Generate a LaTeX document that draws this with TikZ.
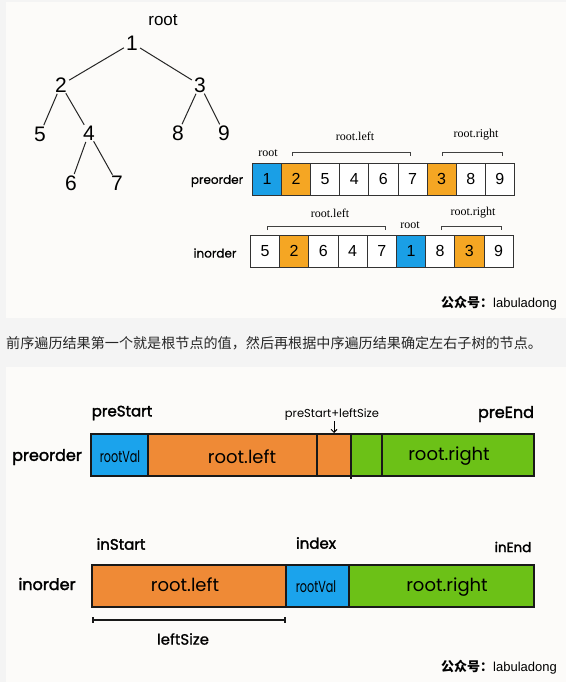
\documentclass[tikz,border=0pt]{standalone}
\usepackage{fontspec}
\setmainfont{Liberation Sans}
\newfontfamily\hand{Poppins}
\newfontfamily\handm{Poppins}[FakeBold=0.8]
\newfontfamily\handb{Poppins}[FakeBold=2]
\newfontfamily\ser{Liberation Serif}
\newfontfamily\cjk{Noto Sans CJK SC}
\usetikzlibrary{arrows.meta}
\definecolor{pg}{HTML}{F4F4F4}
\definecolor{panel}{HTML}{FCFBF9}
\definecolor{tblue}{HTML}{1A9FE6}
\definecolor{torange}{HTML}{F5A623}
\definecolor{borange}{HTML}{EF8A36}
\definecolor{bblue}{HTML}{1BA3EC}
\definecolor{bgreen}{HTML}{6CC117}
\begin{document}
\begin{tikzpicture}[x=1pt,y=-1pt,
  tn/.style={circle,inner sep=0pt,minimum size=17pt,font=\fontsize{21}{21}\selectfont},
  edge/.style={line width=1pt,black!85},
  cell/.style={draw=black!80,line width=0.8pt,minimum width=29.1pt,minimum height=32pt,inner sep=0pt,anchor=north west,font=\fontsize{16}{16}\selectfont},
  rowlab/.style={font=\handm\fontsize{12}{12}\selectfont,black,inner sep=0pt},
  serlab/.style={font=\ser\fontsize{12}{12}\selectfont,inner sep=0pt},
  brk/.style={line width=0.8pt,black!75},
  bar/.style={line width=1.2pt,black!90},
  hb/.style={font=\handb\fontsize{16}{16}\selectfont,inner sep=0pt},
  hr/.style={font=\hand\fontsize{18}{18}\selectfont,inner sep=0pt},
  foot/.style={font=\fontsize{13}{13}\selectfont,inner sep=0pt,anchor=east}
]
\useasboundingbox (0,0) rectangle (566,682);
\fill[pg] (0,0) rectangle (566,682);
\fill[panel] (6,2) rectangle (566,318);
\fill[panel] (6,367) rectangle (566,682);

% ---------- tree ----------
\node[font=\fontsize{17}{17}\selectfont,inner sep=0pt] (rootlab) at (163,20) {root};
\node[tn] (n1) at (132,43) {1};
\node[tn] (n2) at (61,85) {2};
\node[tn] (n3) at (200,85) {3};
\node[tn] (n5) at (40,134) {5};
\node[tn] (n4) at (89,133) {4};
\node[tn] (n8) at (178,133) {8};
\node[tn] (n9) at (224,133) {9};
\node[tn] (n6) at (71,183) {6};
\node[tn] (n7) at (117,183) {7};
\draw[edge] (n1) -- (n2);
\draw[edge] (n1) -- (n3);
\draw[edge] (n2) -- (n5);
\draw[edge] (n2) -- (n4);
\draw[edge] (n3) -- (n8);
\draw[edge] (n3) -- (n9);
\draw[edge] (n4) -- (n6);
\draw[edge] (n4) -- (n7);

% ---------- arrays ----------
\node[rowlab] (prel) at (217,181) {preorder};
\node[rowlab] (inl) at (215,253) {inorder};
\foreach \v/\c [count=\i] in {1/tblue,2/torange,5/white,4/white,6/white,7/white,3/torange,8/white,9/white}
  \node[cell,fill=\c] (p\i) at ({252+(\i-1)*29.11},163) {\v};
\foreach \v/\c [count=\i] in {5/white,2/torange,6/white,4/white,7/white,1/tblue,8/white,3/torange,9/white}
  \node[cell,fill=\c] (q\i) at ({250+(\i-1)*29.2},235) {\v};

\node[serlab] (proot) at (268,153) {root};
\node[serlab] (pleft) at (355,136) {root.left};
\node[serlab] (pright) at (476,135) {root.right};
\draw[brk] (292,156) -- (292,152) -- (410,152) -- (410,156);
\draw[brk] (442,156) -- (442,152) -- (502,152) -- (502,156);

\node[serlab] (ileft) at (330,213) {root.left};
\node[serlab] (iroot) at (410,225) {root};
\node[serlab] (iright) at (473,213) {root.right};
\draw[brk] (267,230) -- (267,226) -- (385,226) -- (385,230);
\draw[brk] (441,230) -- (441,226) -- (501,226) -- (501,230);

\node[foot] (foot1) at (557,303) {{\cjk\bfseries 公众号：}labuladong};

% ---------- caption ----------
\node[anchor=west,inner sep=0pt,font=\cjk\fontsize{14.1}{14}\selectfont,black!85] (cap) at (6,343)
  {前序遍历结果第一个就是根节点的值，然后再根据中序遍历结果确定左右子树的节点。};

% ---------- bottom: preorder bar ----------
\fill[bblue] (91,434) rectangle (148,476);
\fill[borange] (148,434) rectangle (351,476);
\fill[bgreen] (351,434) rectangle (534,476);
\draw[bar] (91,434) rectangle (534,476);
\draw[bar] (148,434) -- (148,476);
\draw[bar] (317,434) -- (317,476);
\draw[bar] (351,434) -- (351,479);
\draw[bar] (382,434) -- (382,476);
\node[hb] (bprel) at (47,457) {preorder};
\node[hb,font=\handb\fontsize{15}{15}\selectfont] (prestart) at (122,413) {preStart};
\node[inner sep=0pt,font=\hand\fontsize{11.5}{12}\selectfont] (psl) at (332,415) {preStart+leftSize};
\node[hb] (preend) at (506,414) {preEnd};
\node[inner sep=0pt,font=\hand\fontsize{16}{16}\selectfont] (prv) at (120,457) {\scalebox{0.7}[1]{rootVal}};
\node[hr] (pbl) at (242,457) {root.left};
\node[hr] (pbr) at (449,456) {root.right};
\coordinate (arrtip) at (334,433);
\draw[line width=0.9pt,-{Straight Barb[length=3pt,width=6pt]}] (psl.south -| arrtip) -- (arrtip);

% ---------- bottom: inorder bar ----------
\fill[borange] (92,565) rectangle (286,607);
\fill[bblue] (286,565) rectangle (349,607);
\fill[bgreen] (349,565) rectangle (534,607);
\draw[bar] (92,565) rectangle (534,607);
\draw[bar] (286,565) -- (286,607);
\draw[bar] (349,565) -- (349,607);
\node[hb] (binl) at (47,584) {inorder};
\node[hb,font=\handb\fontsize{15}{15}\selectfont] (instart) at (121,544) {inStart};
\node[hb,font=\handb\fontsize{15}{15}\selectfont] (index) at (316,543) {index};
\node[hb,font=\handb\fontsize{13.5}{14}\selectfont] (inend) at (513,547) {inEnd};
\node[hr] (ibl) at (185,585) {root.left};
\node[inner sep=0pt,font=\hand\fontsize{16}{16}\selectfont] (irv) at (316,587) {\scalebox{0.7}[1]{rootVal}};
\node[hr] (ibr) at (447,587) {root.right};
\draw[bar] (93,617) -- (93,623);
\draw[bar] (93,620) -- (285,620);
\draw[bar] (285,617) -- (285,623);
\node[font=\handm\fontsize{15}{15}\selectfont,inner sep=0pt] (lsize) at (183,639) {leftSize};

\node[foot] (foot2) at (557,667) {{\cjk\bfseries 公众号：}labuladong};
\end{tikzpicture}
\end{document}
